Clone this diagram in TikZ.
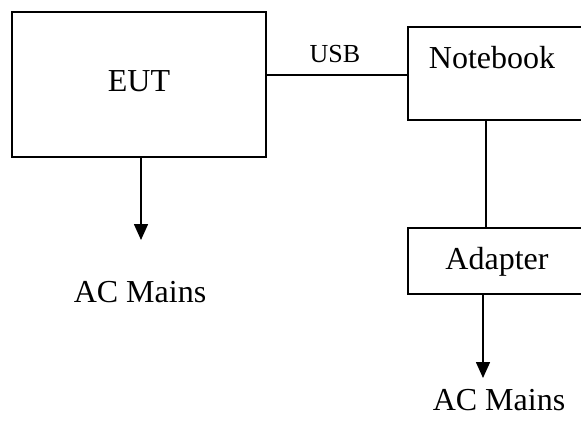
\documentclass[tikz,border=0pt]{standalone}
\usepackage{fontspec}
\setmainfont{Liberation Serif}
\usetikzlibrary{arrows.meta}
\begin{document}
\begin{tikzpicture}[x=1pt,y=-1pt,
  boxst/.style={draw,line width=1.6pt,rectangle,inner sep=0pt},
  txt/.style={anchor=base,inner sep=0pt,font=\fontsize{32}{38}\selectfont},
  small/.style={anchor=base,inner sep=0pt,font=\fontsize{26}{31}\selectfont},
  wire/.style={line width=1.6pt},
  arr/.style={line width=1.6pt,-{Triangle[length=16pt,width=14pt]}}]
\useasboundingbox (0,0) rectangle (581,421);
\node[boxst,minimum width=254pt,minimum height=145pt] (EUT) at (139,84.5) {};
\node[boxst,minimum width=187pt,minimum height=93pt] (NB) at (501.5,73.5) {};
\node[boxst,minimum width=187pt,minimum height=66pt] (AD) at (501.5,261) {};
\node[txt] (eutt) at (139,91) {EUT};
\node[txt] (nbt) at (492,68) {Notebook};
\node[txt] (adt) at (497,269) {Adapter};
\node[small] (usb) at (335,62) {USB};
\coordinate (m1) at (141,240);
\coordinate (m2) at (483,378);
\node[txt] (ac1) at (140,302) {AC Mains};
\node[txt] (ac2) at (499,410) {AC Mains};
\draw[wire] (EUT.east |- 0,75) -- (NB.west |- 0,75);
\draw[wire] (NB.south -| 486,0) -- (AD.north -| 486,0);
\draw[arr] (EUT.south -| m1) -- (m1);
\draw[arr] (AD.south -| m2) -- (m2);
\end{tikzpicture}
\end{document}
